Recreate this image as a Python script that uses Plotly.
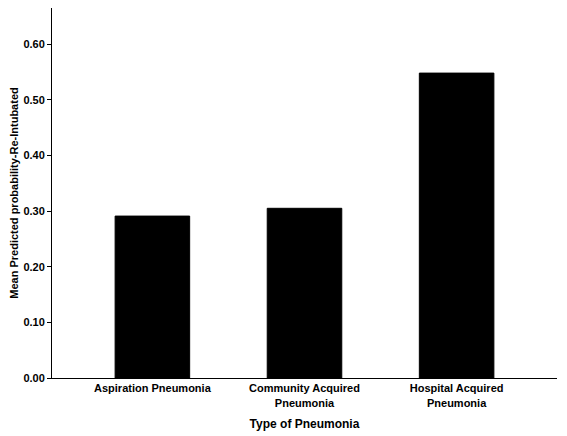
import plotly.graph_objects as go

categories = ["Aspiration Pneumonia", "Community Acquired<br>Pneumonia", "Hospital Acquired<br>Pneumonia"]
values = [0.291, 0.305, 0.548]
tick_vals = [0, 0.1, 0.2, 0.3, 0.4, 0.5, 0.6]
tick_text = ["0.00", "0.10", "0.20", "0.30", "0.40", "0.50", "0.60"]

fig = go.Figure(go.Bar(x=[0, 1, 2], y=values, width=0.49,
                       marker=dict(color="black", line=dict(color="black", width=1))))
fig.update_layout(
    width=567, height=436, margin=dict(l=44, r=18, t=0, b=66),
    plot_bgcolor="white", paper_bgcolor="white", showlegend=False,
    font=dict(family="Liberation Sans, Arial", size=11, color="black"),
)
fig.update_xaxes(range=[-0.66, 2.66], tickvals=[0, 1, 2], ticktext=["<b>%s</b>" % c for c in categories],
                 showline=True, linecolor="black", linewidth=1, ticks="", showgrid=False,
                 title=dict(text="<b>Type of Pneumonia</b>", font=dict(size=12), standoff=12))
fig.update_yaxes(range=[0, 0.665], tickvals=tick_vals, ticktext=["<b>%s</b>" % t for t in tick_text],
                 showline=True, linecolor="black", linewidth=1, ticks="outside", ticklen=4,
                 tickcolor="black", showgrid=False, zeroline=False,
                 title=dict(text="<b>Mean Predicted probability-Re-Intubated</b>", font=dict(size=11), standoff=6))
fig.write_html("out.html")
